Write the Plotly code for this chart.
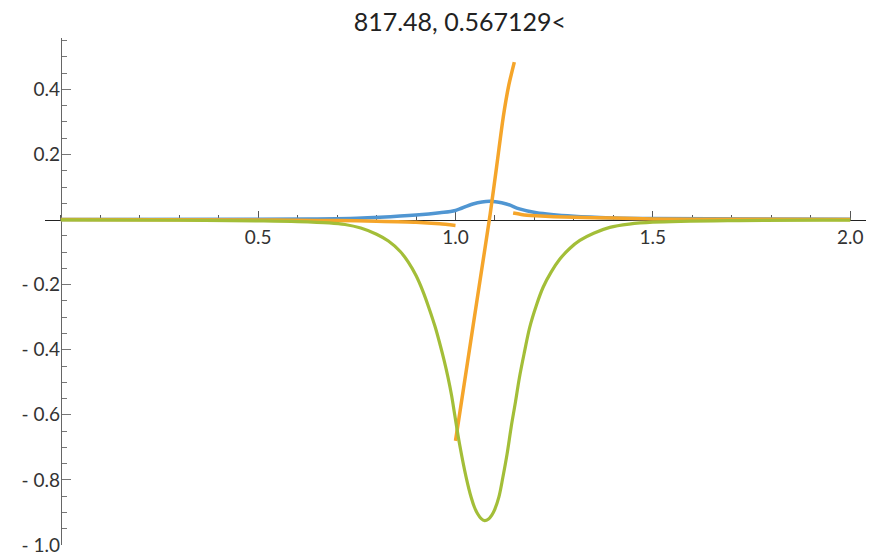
import plotly.graph_objects as go

title_text = "817.48, 0.567129<"

# blue bump
blue_x = [0.0, 0.5, 0.65, 0.75, 0.808, 0.9, 0.96, 1.0, 1.044, 1.086, 1.129, 1.162, 1.205, 1.30, 1.40, 1.5, 2.0]
blue_y = [0.0, 0.001, 0.002, 0.004, 0.007, 0.014, 0.021, 0.028, 0.048, 0.056, 0.048, 0.033, 0.021, 0.010, 0.005, 0.003, 0.001]

# orange, three pieces
orange_left_x = [0.0, 0.5, 0.6, 0.7, 0.8, 0.9, 0.96, 1.0]
orange_left_y = [0.0, -0.001, -0.002, -0.003, -0.005, -0.008, -0.013, -0.018]
orange_mid_x = [1.0, 1.03, 1.06, 1.088, 1.104, 1.121, 1.135, 1.149]
orange_mid_y = [-0.68, -0.442, -0.204, 0.018, 0.161, 0.315, 0.413, 0.484]
orange_right_x = [1.146, 1.17, 1.205, 1.25, 1.30, 1.40, 1.5, 1.7, 2.0]
orange_right_y = [0.020, 0.015, 0.012, 0.009, 0.007, 0.005, 0.002, 0.001, 0.0]

# green dip
green_x = [0.0, 0.3, 0.5, 0.6, 0.68, 0.72, 0.76, 0.80, 0.83, 0.86, 0.88, 0.90, 0.918,
           0.934, 0.948, 0.960, 0.971, 0.981, 0.990, 0.998, 1.010, 1.027, 1.040, 1.048,
           1.056, 1.065, 1.074, 1.083, 1.092, 1.099, 1.110, 1.120, 1.131, 1.141, 1.152,
           1.162, 1.175, 1.188, 1.205, 1.222, 1.243, 1.264, 1.290, 1.315, 1.350, 1.391,
           1.440, 1.5, 1.7, 2.0]
green_y = [-0.001, -0.002, -0.004, -0.006, -0.010, -0.015, -0.026, -0.045, -0.066, -0.098,
           -0.130, -0.172, -0.222, -0.276, -0.328, -0.380, -0.432, -0.485, -0.540, -0.600,
           -0.688, -0.792, -0.855, -0.884, -0.904, -0.919, -0.925, -0.921, -0.908, -0.892,
           -0.852, -0.792, -0.718, -0.638, -0.560, -0.485, -0.405, -0.331, -0.263, -0.208,
           -0.160, -0.122, -0.088, -0.064, -0.042, -0.024, -0.014, -0.008, -0.003, -0.002]

x_tickvals = [0.5, 1.0, 1.5, 2.0]
x_ticktext = ["0.5", "1.0", "1.5", "2.0"]
y_tickvals = [0.4, 0.2, -0.2, -0.4, -0.6, -0.8, -1.0]
y_ticktext = ["0.4", "0.2", "- 0.2", "- 0.4", "- 0.6", "- 0.8", "- 1.0"]

BLUE = "#5096d2"
ORANGE = "#f5a52a"
GREEN = "#a3be38"

fig = go.Figure()
fig.add_trace(go.Scatter(x=blue_x, y=blue_y, mode="lines",
                         line=dict(color=BLUE, width=3.5, shape="spline", smoothing=1.0)))
for xs, ys in [(orange_left_x, orange_left_y), (orange_mid_x, orange_mid_y),
               (orange_right_x, orange_right_y)]:
    fig.add_trace(go.Scatter(x=xs, y=ys, mode="lines",
                             line=dict(color=ORANGE, width=3.5, shape="spline", smoothing=0.6)))
fig.add_trace(go.Scatter(x=green_x, y=green_y, mode="lines",
                         line=dict(color=GREEN, width=3.2, shape="spline", smoothing=1.0)))

xr = [-0.04, 2.04]
yr = [-1.0, 0.558]

fig.update_layout(
    width=871, height=556,
    margin=dict(l=45, r=5, t=38, b=11, autoexpand=False),
    paper_bgcolor="white", plot_bgcolor="white",
    showlegend=False,
    font=dict(family="Lato, DejaVu Sans, sans-serif", color="#333333", size=19),
    title=dict(text=title_text, x=0.528, xref="container", xanchor="center",
               y=0.96, yref="container", yanchor="middle", font=dict(size=25, color="#222222")),
    xaxis=dict(range=xr, anchor="free", position=(0 - yr[0]) / (yr[1] - yr[0]), automargin=False,
               showgrid=False, zeroline=False, showline=True, linecolor="#222222", linewidth=1,
               tickmode="array", tickvals=x_tickvals, ticktext=x_ticktext,
               ticks="inside", ticklen=9, tickcolor="#555555", tickwidth=1,
               ticklabelstandoff=1, layer="below traces",
               minor=dict(dtick=0.1, tick0=0, ticks="inside", ticklen=5, tickcolor="#555555")),
    yaxis=dict(range=yr, anchor="free", position=(0 - xr[0]) / (xr[1] - xr[0]), automargin=False,
               showgrid=False, zeroline=False, showline=True, linecolor="#666666", linewidth=1,
               tickmode="array", tickvals=y_tickvals, ticktext=y_ticktext,
               ticks="inside", ticklen=9, tickcolor="#777777", tickwidth=1,
               ticklabelstandoff=-3, layer="below traces",
               minor=dict(dtick=0.05, tick0=0, ticks="inside", ticklen=5, tickcolor="#777777")),
)

fig.write_html("out.html", config={"displayModeBar": False},
               post_script="document.body.style.margin='0';")
